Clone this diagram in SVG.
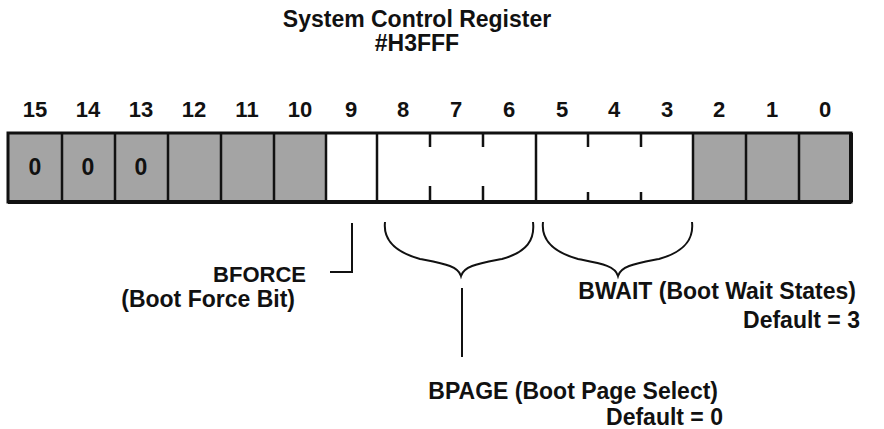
<svg xmlns="http://www.w3.org/2000/svg" width="884" height="429" viewBox="0 0 884 429">
<style>
text{font-family:"Liberation Sans",Arial,sans-serif;font-weight:bold;fill:#111}
.t{font-size:23px}
.n{font-size:22px;text-anchor:middle}
.z{font-size:23px;text-anchor:middle}
.l{font-size:23px}
.e{text-anchor:end}
.sh{fill:#a4a4a4}
.ln{stroke:#111;stroke-width:2.5;fill:none}
.br{stroke:#111;stroke-width:2;fill:none}
</style>
<rect width="884" height="429" fill="#fff"/>
<g id="title">
<text class="t" x="417" y="27" text-anchor="middle">System Control Register</text>
<text class="t" x="417" y="51" text-anchor="middle">#H3FFF</text>
</g>
<g id="bitnumbers">
<text class="n" x="35" y="117">15</text>
<text class="n" x="88" y="117">14</text>
<text class="n" x="141" y="117">13</text>
<text class="n" x="194" y="117">12</text>
<text class="n" x="247" y="117">11</text>
<text class="n" x="300" y="117">10</text>
<text class="n" x="351" y="117">9</text>
<text class="n" x="403" y="117">8</text>
<text class="n" x="456" y="117">7</text>
<text class="n" x="509" y="117">6</text>
<text class="n" x="562" y="117">5</text>
<text class="n" x="614" y="117">4</text>
<text class="n" x="667" y="117">3</text>
<text class="n" x="719" y="117">2</text>
<text class="n" x="772" y="117">1</text>
<text class="n" x="825" y="117">0</text>
</g>
<g id="register">
<rect class="sh" x="8" y="133" width="318" height="69"/>
<rect class="sh" x="693" y="133" width="158" height="69"/>
<rect x="8" y="133" width="843" height="69" fill="none" stroke="#111" stroke-width="3"/>
<line x1="8" y1="202" x2="851" y2="202" stroke="#111" stroke-width="4"/>
<line x1="851" y1="133" x2="851" y2="202" stroke="#111" stroke-width="4"/>
<g class="ln">
<line x1="62" y1="133" x2="62" y2="202"/>
<line x1="115" y1="133" x2="115" y2="202"/>
<line x1="168" y1="133" x2="168" y2="202"/>
<line x1="221" y1="133" x2="221" y2="202"/>
<line x1="274" y1="133" x2="274" y2="202"/>
<line x1="326" y1="133" x2="326" y2="202"/>
<line x1="377" y1="133" x2="377" y2="202"/>
<line x1="536" y1="133" x2="536" y2="202"/>
<line x1="693" y1="133" x2="693" y2="202"/>
<line x1="746" y1="133" x2="746" y2="202"/>
<line x1="799" y1="133" x2="799" y2="202"/>
<path d="M430,133V147M430,186V202M483,133V147M483,186V202M588,133V147M588,192V202M641,133V147M641,192V202"/>
</g>
<text class="z" x="35" y="175">0</text>
<text class="z" x="88" y="175">0</text>
<text class="z" x="141" y="175">0</text>
</g>
<g id="connectors">
<path class="br" d="M352,223V272H330"/>
<path class="br" d="M385,222C383,240 395,252 420,259C445,264 458,266 461,276C464,266 477,264 502,259C527,252 535,240 533,222"/>
<path class="br" d="M543,222C541,240 553,252 578,259C603,264 615,266 618,276C621,266 634,264 659,259C684,252 694,240 692,222"/>
<line class="br" x1="462" y1="288" x2="462" y2="357"/>
</g>
<g id="bforce">
<text class="l e" x="306" y="282" style="font-size:22px">BFORCE</text>
<text class="l e" x="295" y="307">(Boot Force Bit)</text>
</g>
<g id="bwait">
<text class="l e" x="856" y="299">BWAIT (Boot Wait States)</text>
<text class="l e" x="860" y="328">Default = 3</text>
</g>
<g id="bpage">
<text class="l e" x="718" y="399">BPAGE (Boot Page Select)</text>
<text class="l e" x="723" y="425">Default = 0</text>
</g>
</svg>
